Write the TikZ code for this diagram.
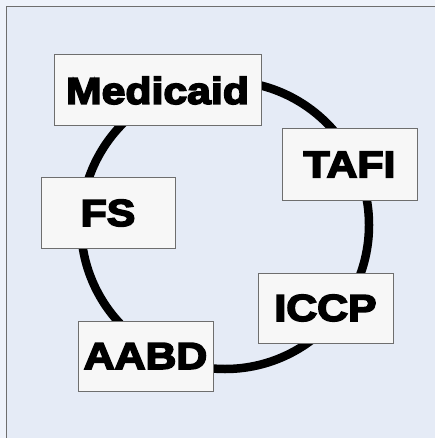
\documentclass[tikz,border=0pt]{standalone}
\usepackage{fontspec}
\setmainfont{Liberation Sans}[BoldFeatures={FakeBold=4.5,FakeStretch=1.14}]
\definecolor{pageblue}{HTML}{EEF2FA}
\definecolor{panelblue}{HTML}{E5EBF6}
\definecolor{boxfill}{HTML}{F7F7F7}
\definecolor{boxline}{HTML}{6E6E6E}
\tikzset{
  prog/.style={draw=boxline, line width=1pt, fill=boxfill, inner sep=0pt,
    font=\fontsize{37.5}{40}\selectfont\bfseries, anchor=center},
  ring/.style={line width=8.5pt, draw=black}
}
\begin{document}
\begin{tikzpicture}[x=1pt,y=-1pt]
  \useasboundingbox (0,0) rectangle (435,438);
  \fill[pageblue] (0,0) rectangle (435,438);
  \fill[panelblue] (6.5,6.5) rectangle (435,438);
  \draw[boxline, line width=1.5pt] (6.5,438) -- (6.5,6.5) -- (435,6.5);
  % program cycle
  \coordinate (c) at (225,225);
  \draw[ring] (c) circle[radius=144];
  \node[prog, minimum width=207pt, minimum height=71pt] (med)  at (157.5,90.5)  {Medicaid};
  \node[prog, minimum width=135pt, minimum height=71pt] (tafi) at (349.5,164.5) {TAFI};
  \node[prog, minimum width=134pt, minimum height=70pt] (fs)   at (108,213)     {FS};
  \node[prog, minimum width=135pt, minimum height=70pt] (iccp) at (325.5,308)   {ICCP};
  \node[prog, minimum width=135pt, minimum height=70pt] (aabd) at (145.5,356)   {AABD};
\end{tikzpicture}
\end{document}
